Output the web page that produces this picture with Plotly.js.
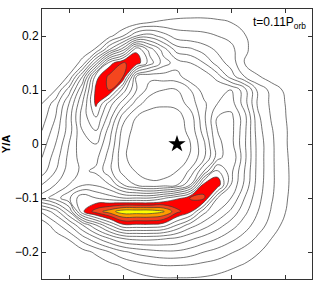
<!DOCTYPE html>
<html>
<head>
<meta charset="utf-8">
<script src="https://cdn.plot.ly/plotly-3.0.1.min.js"></script>
<style>html,body{margin:0;padding:0;background:#fff;}#chart{width:316px;height:287px;}</style>
</head>
<body>
<div id="chart"></div>
<script>
// Grid coordinates (X/A and Y/A)
const xGrid = [-0.25,-0.225,-0.2,-0.175,-0.15,-0.125,-0.1,-0.075,-0.05,-0.025,0,0.025,0.05,0.075,0.1,0.125,0.15,0.175,0.2,0.225,0.25];
const yGrid = [-0.25,-0.225,-0.2,-0.175,-0.15,-0.125,-0.1,-0.075,-0.05,-0.025,0,0.025,0.05,0.075,0.1,0.125,0.15,0.175,0.2,0.225,0.25];
// Density levels (rows: y ascending)
const density = [
  [0,0,0,0,0,0,0.4,0.6,0.8,0.9,0.9,0.9,0.85,0.7,0.5,0,0,0,0,0,0],
  [0,0,0,0,0.3,0.7,1.1,1.5,1.8,2.0,2.0,1.9,1.7,1.5,1.2,0.9,0.4,0,0,0,0],
  [0,0,0.2,0.6,1.2,2.0,2.8,3.3,3.6,3.8,3.8,3.5,3.0,2.6,2.1,1.6,1.1,0.5,0,0,0],
  [0,0.4,1.1,2.5,3.8,5.0,6.0,6.3,6.3,6.1,5.8,5.2,4.6,4.0,3.3,2.6,1.8,1.0,0.4,0,0],
  [0.3,1.6,3.0,5.0,7.0,9.0,10.8,10.8,10.8,10.5,9.0,7.5,6.5,5.5,4.5,3.5,2.5,1.6,0.7,0.2,0],
  [2.2,3.5,6.0,10.8,12.5,13.5,14.6,14.6,14.6,14.1,12.3,11.2,8.3,7.0,5.8,4.3,3.0,1.9,1.05,0.3,0],
  [6.5,7.5,8.8,10.8,10.0,9.5,9.0,9.0,9.0,9.8,10.8,12.1,12.2,8.0,7.0,5.0,3.3,2.1,1.15,0.4,0],
  [5.0,6.0,7.0,7.8,7.8,7.0,5.0,3.8,3.2,3.3,3.8,6.0,11.4,11.8,8.0,5.8,3.5,2.2,1.2,0.5,0],
  [3.5,5.0,6.5,7.2,6.8,5.3,3.6,2.9,2.6,2.6,3.0,4.2,7.0,10.3,8.3,6.0,3.6,2.2,1.2,0.5,0],
  [3.0,4.5,6.3,7.5,7.3,5.5,3.2,2.5,2.3,2.3,2.5,3.1,4.8,7.5,9.0,6.3,3.6,2.2,1.15,0.5,0],
  [2.5,4.0,6.0,7.8,8.0,6.0,3.3,2.5,2.3,2.2,2.4,3.0,4.8,7.8,8.4,6.2,3.6,2.2,1.1,0.5,0],
  [2.0,3.5,5.5,8.0,9.0,6.5,3.6,2.6,2.3,2.2,2.5,3.3,5.5,8.0,8.4,6.3,3.4,2.1,1.1,0.5,0],
  [1.5,3.0,5.5,8.5,10.0,7.5,4.5,3.0,2.6,2.4,2.6,3.5,5.8,8.0,8.3,6.4,3.2,1.9,1.05,0.4,0],
  [1.0,2.5,5.0,8.0,11.3,8.5,6.5,4.5,3.3,3.2,3.3,4.5,5.8,7.0,7.5,5.5,2.8,1.8,1.0,0.4,0],
  [0.5,1.0,3.5,7.0,11.3,12.05,8.5,6.0,4.5,4.0,4.0,5.0,6.5,7.0,7.0,5.5,2.7,1.7,0.8,0,0],
  [0,0.3,1.1,5.0,10.6,12.3,12.05,6.0,5.3,5.5,5.6,6.8,6.8,5.5,3.5,2.0,1.1,0.4,0,0,0],
  [0,0,0.3,1.3,5.5,10.5,12.1,11.6,9.5,7.5,6.5,6.0,5.0,3.5,2.6,1.0,0.4,0,0,0,0],
  [0,0,0,0.5,1.1,4.0,6.5,10.8,8.5,6.5,4.5,4.2,3.5,2.8,2.3,1.2,0.5,0,0,0,0],
  [0,0,0,0,0.2,0.7,2.0,4.0,4.5,3.5,2.5,2.3,2.2,2.0,1.7,1.1,0.3,0,0,0,0],
  [0,0,0,0,0,0,0,0.5,1.0,1.2,1.4,1.5,1.5,1.3,1.0,0.5,0,0,0,0,0],
  [0,0,0,0,0,0,0,0,0,0,0,0,0,0,0,0,0,0,0,0,0]
];
const starX = [0];
const starY = [0];
const tickVals = [-0.2,-0.1,0,0.1,0.2];
const timeLabel = 't=0.11P<sub>orb</sub>';

const levelStart = 1, levelEnd = 14, levelStep = 1;
const scaleTop = levelEnd; // colorscale domain spans 0..14
const pos = v => v / scaleTop;
const fillScale = [
  [0, '#ffffff'], [pos(11), '#ffffff'],
  [pos(11), '#ff0000'], [pos(12), '#ff0000'],
  [pos(12), '#f4461e'], [pos(13), '#f4461e'],
  [pos(13), '#ff9c00'], [0.999, '#ff9c00'],
  [0.999, '#ffff00'], [1, '#ffff00']
];

const traces = [
  {
    type: 'contour',
    x: xGrid, y: yGrid, z: density,
    colorscale: fillScale,
    showscale: false,
    hoverinfo: 'skip',
    contours: {coloring: 'fill', start: levelStart, end: levelEnd, size: levelStep, showlines: true},
    line: {color: '#3a3a3a', width: 0.7, smoothing: 1.3}
  },
  {
    type: 'scatter', mode: 'markers',
    x: starX, y: starY,
    marker: {symbol: 'star', size: 13, color: '#000'},
    hoverinfo: 'skip'
  }
];

const axisCommon = {
  range: [-0.25, 0.25],
  showgrid: false, zeroline: false,
  showline: true, mirror: 'ticks',
  linecolor: '#333', linewidth: 1,
  ticks: 'inside', ticklen: 4, tickcolor: '#333', tickwidth: 1,
  tickvals: tickVals
};

const layout = {
  width: 316, height: 287,
  margin: {l: 42, r: 4, t: 9, b: 8},
  paper_bgcolor: '#fff', plot_bgcolor: '#fff',
  showlegend: false,
  font: {family: 'Liberation Sans, Arial, sans-serif', size: 12, color: '#000'},
  xaxis: Object.assign({}, axisCommon, {showticklabels: false}),
  yaxis: Object.assign({}, axisCommon, {
    tickfont: {size: 12},
    title: {text: '<b>Y/A</b>', font: {size: 11}, standoff: 6}
  }),
  annotations: [{
    text: timeLabel, xref: 'paper', yref: 'paper',
    x: 0.985, y: 0.985, xanchor: 'right', yanchor: 'top',
    showarrow: false, font: {size: 12, color: '#000'}
  }]
};

Plotly.newPlot('chart', traces, layout, {displayModeBar: false, staticPlot: true});
</script>
</body>
</html>
